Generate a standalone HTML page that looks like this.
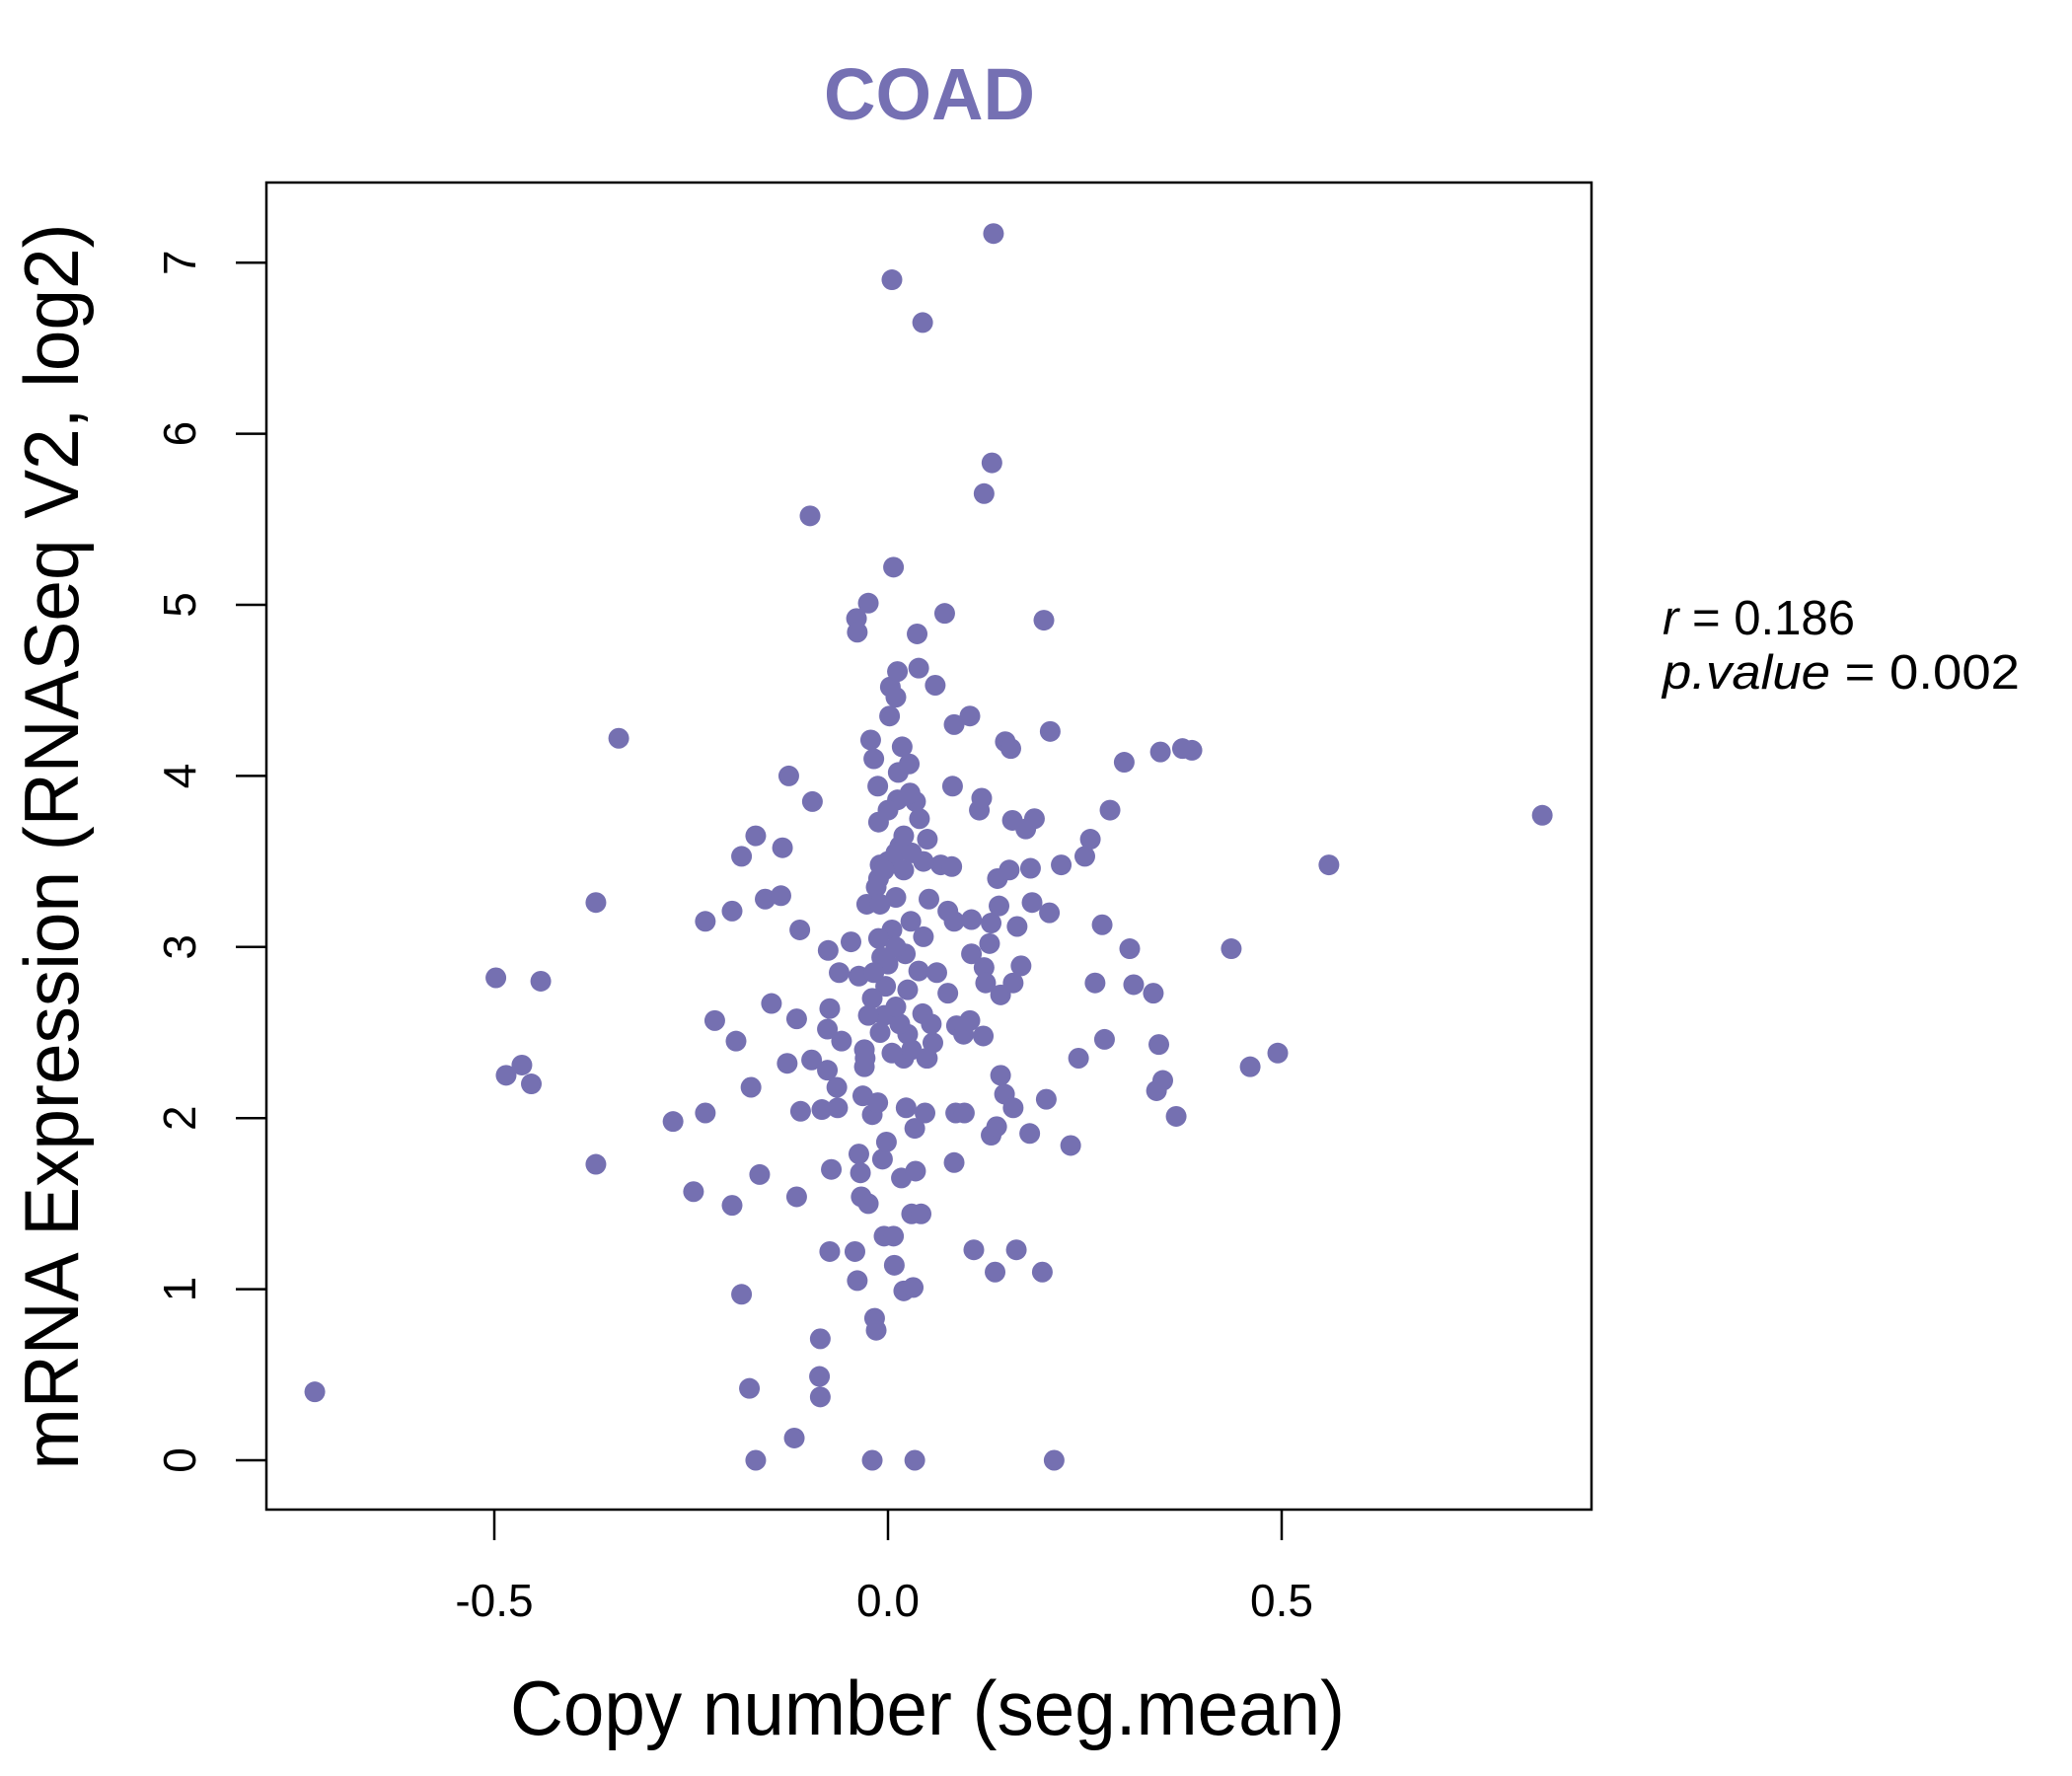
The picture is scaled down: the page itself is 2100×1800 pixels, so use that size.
<!DOCTYPE html>
<html><head><meta charset="utf-8"><style>
html,body{margin:0;padding:0;background:#fff}
svg{display:block}
text{font-family:"Liberation Sans",sans-serif}
</style></head><body>
<svg id="chart" width="2100" height="1800" viewBox="0 0 2100 1800" xmlns="http://www.w3.org/2000/svg">
<text x="942" y="121" text-anchor="middle" font-size="74" font-weight="bold" fill="#7570b3" textLength="214" lengthAdjust="spacingAndGlyphs">COAD</text>
<rect x="270" y="185" width="1343" height="1345" fill="none" stroke="#000" stroke-width="2.5"/>
<g id="xaxis"></g>
<g id="yaxis"></g>
<g id="points"></g>
<text x="940" y="1758" text-anchor="middle" font-size="78" textLength="846" lengthAdjust="spacingAndGlyphs">Copy number (seg.mean)</text>
<text transform="translate(79,858) rotate(-90)" text-anchor="middle" font-size="78" textLength="1263" lengthAdjust="spacingAndGlyphs">mRNA Expression (RNASeq V2, log2)</text>
<text x="1685" y="643" font-size="49" textLength="195" lengthAdjust="spacingAndGlyphs"><tspan font-style="italic">r</tspan> = 0.186</text>
<text x="1685" y="698" font-size="49" textLength="362" lengthAdjust="spacingAndGlyphs"><tspan font-style="italic">p.value</tspan> = 0.002</text>
</svg>
<script>
const xTicks=[-0.5,0,0.5];
const xTickLabels=["-0.5","0.0","0.5"];
const yTicks=[0,1,2,3,4,5,6,7];
const yTickLabels=["0","1","2","3","4","5","6","7"];
const xVals=[-0.728,-0.498,-0.485,-0.465,-0.453,-0.441,-0.371,-0.371,-0.342,-0.273,-0.247,-0.232,-0.232,-0.220,-0.198,-0.198,-0.193,-0.186,-0.186,-0.176,-0.174,-0.168,-0.168,-0.163,-0.156,-0.148,-0.136,-0.134,-0.128,-0.126,-0.119,-0.116,-0.116,-0.112,-0.111,-0.099,-0.097,-0.096,-0.087,-0.086,-0.086,-0.084,-0.077,-0.076,-0.074,-0.072,-0.077,-0.074,-0.065,-0.064,-0.062,-0.059,-0.047,-0.042,-0.040,-0.039,-0.039,-0.037,-0.037,-0.035,-0.034,-0.032,-0.029,-0.027,-0.025,-0.025,-0.022,-0.020,-0.020,-0.018,-0.017,-0.015,-0.013,-0.013,-0.012,-0.012,-0.010,-0.008,-0.007,-0.005,-0.003,-0.002,0.002,0.003,0.005,0.007,0.007,0.008,0.010,0.010,0.012,0.012,0.013,0.015,0.017,0.018,0.020,0.022,0.023,0.025,0.027,0.029,0.030,0.032,0.034,0.034,0.035,0.037,0.039,0.039,0.042,0.044,0.044,0.045,0.047,0.049,0.050,0.052,0.057,0.060,0.062,0.067,0.072,0.076,0.076,0.081,0.082,0.084,0.084,0.084,0.086,0.087,0.096,0.097,0.104,0.104,0.106,0.106,0.109,0.116,0.119,0.121,0.122,0.122,0.124,0.129,0.131,0.131,0.132,0.134,0.136,0.138,0.139,0.141,0.143,0.143,0.148,0.149,0.154,0.156,0.158,0.159,0.159,0.163,0.164,0.169,0.175,0.180,0.181,0.183,0.186,0.196,0.198,0.201,0.205,0.206,0.211,0.220,0.232,0.242,0.250,0.257,0.263,0.272,0.275,0.282,0.300,0.307,0.312,0.337,0.341,0.344,0.346,0.349,0.366,0.374,0.386,0.436,0.460,0.495,0.560,0.831,
-0.015,-0.010,0.000,0.010,0.020,0.005,-0.005,-0.020,-0.010,0.015,0.020,0.030,-0.030,-0.025,0.025,0.000,0.010,-0.012,0.030,0.035,0.040,0.050,0.055,0.045,-0.030,0.005,0.010,-0.018,0.020,0.000,0.028,-0.005];
const yVals=[0.40,2.82,2.25,2.31,2.20,2.80,3.26,1.73,4.22,1.98,1.57,3.15,2.03,2.57,3.21,1.49,2.45,3.53,0.97,0.42,2.18,3.65,0,1.67,3.28,2.67,3.30,3.58,2.32,4.00,0.13,2.58,1.54,3.10,2.04,5.52,2.34,3.85,0.49,0.71,0.37,2.05,2.28,2.98,1.22,1.70,2.52,2.64,2.18,2.06,2.85,2.45,3.03,1.22,4.92,4.84,1.05,2.83,1.79,1.68,1.54,2.13,2.35,3.25,5.01,1.50,4.21,2.02,0,4.10,0.83,0.76,3.94,2.09,3.73,3.40,3.48,2.94,1.76,1.31,2.77,1.86,4.35,4.52,6.90,5.22,1.31,1.14,4.46,3.29,4.61,3.86,4.02,3.59,1.65,4.17,0.99,2.96,2.06,2.49,4.07,3.15,1.44,1.01,0,1.94,1.69,4.83,4.63,2.86,1.44,6.65,2.61,3.06,2.03,2.35,3.63,3.28,2.44,4.53,2.85,3.48,4.95,2.73,3.21,3.47,3.94,1.74,4.30,3.15,2.03,2.54,2.49,2.03,4.35,2.57,2.96,3.16,1.23,3.80,3.87,2.48,5.65,2.88,2.79,3.02,3.14,1.90,5.83,7.17,1.10,1.95,3.40,3.24,2.72,2.25,2.14,4.20,3.45,4.16,3.74,2.06,2.79,1.23,3.12,2.89,3.69,1.91,3.46,3.26,3.75,1.10,4.91,2.11,3.20,4.26,0,3.48,1.84,2.35,3.53,3.63,2.79,3.13,2.46,3.80,4.08,2.99,2.78,2.73,2.16,2.43,4.14,2.22,2.01,4.16,4.15,2.99,2.30,2.38,3.48,3.77,
3.35,3.25,3.50,3.55,3.45,3.10,2.60,2.70,2.50,2.55,2.35,2.40,2.40,2.60,2.75,2.90,3.00,3.05,3.55,3.85,3.75,2.35,2.55,3.50,2.30,2.38,2.65,2.85,3.65,3.80,3.90,3.45];
const NS="http://www.w3.org/2000/svg";
function sx(v){return 900+v*798;}
function sy(v){return 1480-v*173.4;}
function mk(tag,attrs,parent){const e=document.createElementNS(NS,tag);for(const k in attrs)e.setAttribute(k,attrs[k]);parent.appendChild(e);return e;}
const xa=document.getElementById('xaxis'),ya=document.getElementById('yaxis'),pg=document.getElementById('points');
xTicks.forEach((t,i)=>{
  const l=mk('line',{x1:sx(t),x2:sx(t),y1:1530,y2:1561,stroke:'#000','stroke-width':2.5},xa);
  
  
  const tx=mk('text',{x:sx(t),y:1638,'text-anchor':'middle','font-size':46},xa);
  tx.textContent=xTickLabels[i];
  
  
});
yTicks.forEach((t,i)=>{
  const l=mk('line',{x1:239,x2:270,y1:sy(t),y2:sy(t),stroke:'#000','stroke-width':2.5},ya);
  
  
  const tx=mk('text',{transform:'translate(198,'+sy(t)+') rotate(-90)','text-anchor':'middle','font-size':46},ya);
  tx.textContent=yTickLabels[i];
  
  
});
xVals.forEach((x,i)=>{
  const c=mk('circle',{cx:sx(x),cy:sy(yVals[i]),r:10.5,fill:'#7570b1'},pg);
  
  
});
</script>
</body></html>
